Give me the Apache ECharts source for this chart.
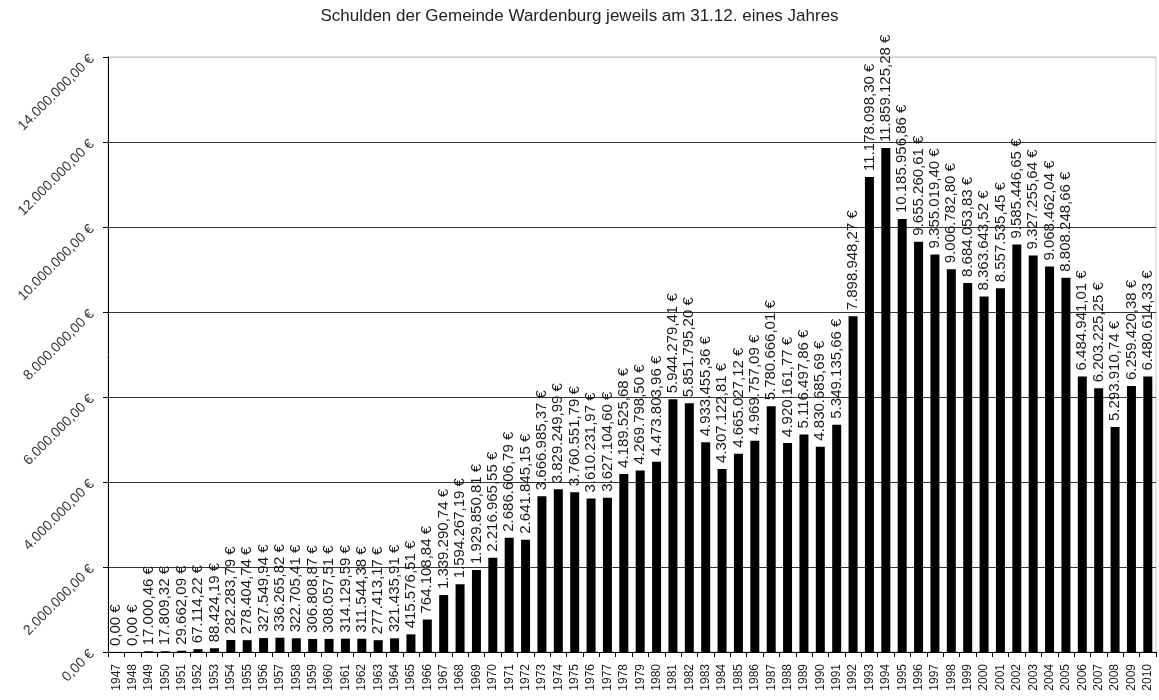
<!DOCTYPE html>
<html>
<head>
<meta charset="utf-8">
<script src="https://cdn.jsdelivr.net/npm/echarts@6/dist/echarts.min.js"></script>
<style>html,body{margin:0;padding:0;background:#fff}#c{width:1159px;height:700px}</style>
</head>
<body>
<div id="c"></div>
<script>
const titleText = 'Schulden der Gemeinde Wardenburg jeweils am 31.12. eines Jahres';
const years = ['1947','1948','1949','1950','1951','1952','1953','1954','1955','1956','1957','1958','1959','1960','1961','1962','1963','1964','1965','1966','1967','1968','1969','1970','1971','1972','1973','1974','1975','1976','1977','1978','1979','1980','1981','1982','1983','1984','1985','1986','1987','1988','1989','1990','1991','1992','1993','1994','1995','1996','1997','1998','1999','2000','2001','2002','2003','2004','2005','2006','2007','2008','2009','2010'];
const debts = [0, 0, 17000.46, 17809.32, 29662.09, 67114.22, 88424.19, 282283.79, 278404.74, 327549.94,
  336265.82, 322705.41, 306808.87, 308057.51, 314129.59, 311544.38, 277413.17, 321435.91, 415576.51, 764108.84,
  1339290.74, 1594267.19, 1929850.81, 2216965.55, 2686606.79, 2641845.15, 3666985.37, 3829249.99, 3760551.79, 3610231.97,
  3627104.60, 4189525.68, 4269798.50, 4473803.96, 5944279.41, 5851795.20, 4933455.36, 4307122.81, 4665027.12, 4969757.09,
  5780666.01, 4920161.77, 5116497.86, 4830685.69, 5349135.66, 7898948.27, 11178098.30, 11859125.28, 10185956.86, 9655260.61,
  9355019.40, 9006782.80, 8684053.83, 8363643.52, 8557535.45, 9585446.65, 9327255.64, 9068462.04, 8808248.66, 6484941.01,
  6203225.25, 5293910.74, 6259420.38, 6480614.33];
const yTicks = [0, 2000000, 4000000, 6000000, 8000000, 10000000, 12000000, 14000000];

function euro(v) {
  const parts = v.toFixed(2).split('.');
  const intPart = parts[0].replace(/\B(?=(\d{3})+(?!\d))/g, '.');
  return intPart + ',' + parts[1] + ' €';
}

const chart = echarts.init(document.getElementById('c'), null, {renderer: 'canvas'});
chart.setOption({
  animation: false,
  backgroundColor: '#fff',
  textStyle: {fontFamily: 'Liberation Sans, Arial, sans-serif'},
  title: {
    text: titleText, left: 'center', top: 3,
    textStyle: {fontSize: 17, fontWeight: 'normal', color: '#222', fontFamily: 'Liberation Sans, Arial, sans-serif'}
  },
  grid: {left: 108, right: 3, top: 57, bottom: 48, show: true, borderColor: '#c8c8c8', borderWidth: 1},
  xAxis: {
    type: 'category', data: years,
    axisLine: {lineStyle: {color: '#000', width: 1}},
    axisTick: {show: true, alignWithLabel: false, length: 5, lineStyle: {color: '#000'}},
    axisLabel: {rotate: 90, interval: 0, fontSize: 12, color: '#1a1a1a', margin: 12}
  },
  yAxis: {
    type: 'value', min: yTicks[0], max: yTicks[yTicks.length - 1], interval: 2000000,
    axisLine: {show: true, lineStyle: {color: '#000', width: 1}},
    axisTick: {show: true, length: 5, lineStyle: {color: '#000'}},
    axisLabel: {rotate: 45, fontSize: 14, color: '#333', margin: 16, formatter: v => euro(v)},
    splitLine: {show: true, lineStyle: {color: ['#000', '#333', '#333', '#333', '#333', '#333', '#333', '#c8c8c8'], width: 1}}
  },
  series: [{
    type: 'bar', data: debts, barWidth: 9,
    itemStyle: {color: '#000'},
    label: {
      show: true, position: 'top', rotate: 90, align: 'left', verticalAlign: 'middle',
      distance: 6, fontSize: 15, color: '#1a1a1a', formatter: p => euro(p.value)
    }
  }]
});
</script>
</body>
</html>
